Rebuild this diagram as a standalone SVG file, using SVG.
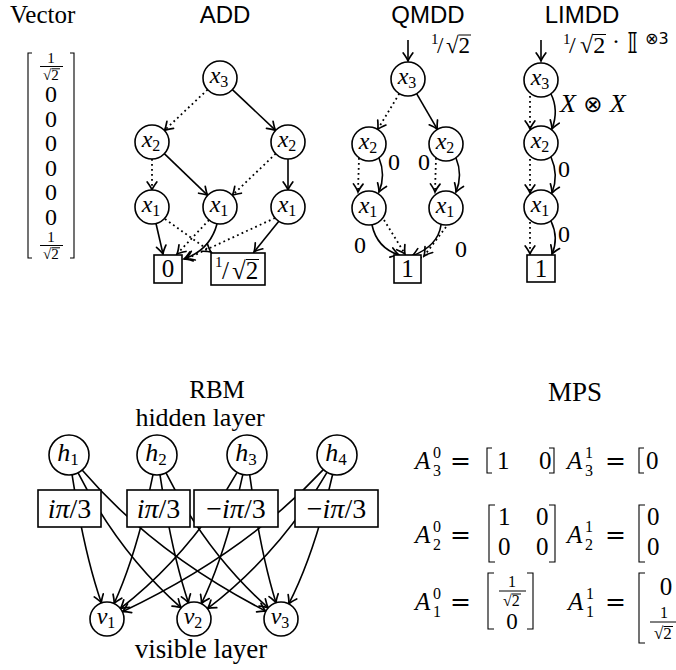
<svg xmlns="http://www.w3.org/2000/svg" width="676" height="670" viewBox="0 0 676 670">
<defs>
<style>
text { font-family: "Liberation Serif", "DejaVu Serif", serif; fill:#000; }
.sans { font-family: "Liberation Sans", "DejaVu Sans", sans-serif; }
.it { font-style: italic; }
.sym { font-family: "DejaVu Sans", "DejaVu Serif", "Noto Sans", sans-serif; }
.node { fill:#fff; stroke:#000; stroke-width:1.6; }
.box { fill:#fff; stroke:#000; stroke-width:1.6; }
.edge { fill:none; stroke:#000; stroke-width:1.6; marker-end:url(#arr); }
.dot { stroke-width:1.8; stroke-dasharray:1.8 3.2; }
.brk { fill:none; stroke:#000; stroke-width:1.1; }
.bar { stroke:#000; stroke-width:1; }
</style>
<marker id="arr" viewBox="-10 -6 12 12" refX="0" refY="0" markerWidth="12" markerHeight="12" orient="auto" markerUnits="userSpaceOnUse">
<path d="M-8,-4.8 Q-2.8,-1 0,0 Q-2.8,1 -8,4.8" fill="none" stroke="#000" stroke-width="1.7" stroke-linecap="round"/>
</marker>
</defs>
<rect width="676" height="670" fill="#fff"/>

<!-- Vector -->
<g id="vector">
<text x="10" y="22.5" font-size="25">Vector</text>
<path class="brk" d="M32,53 H28 V258 H32"/>
<path class="brk" d="M70,53 H74 V258 H70"/>
<text x="51" y="63" font-size="15" text-anchor="middle">1</text>
<line class="bar" x1="40" y1="66.5" x2="63" y2="66.5"/>
<text x="43" y="79.5" font-size="15">√2</text>
<line class="bar" x1="51.5" y1="68.8" x2="60" y2="68.8"/>
<text x="51" y="102" font-size="24" text-anchor="middle">0</text>
<text x="51" y="126.5" font-size="24" text-anchor="middle">0</text>
<text x="51" y="151" font-size="24" text-anchor="middle">0</text>
<text x="51" y="175.5" font-size="24" text-anchor="middle">0</text>
<text x="51" y="200" font-size="24" text-anchor="middle">0</text>
<text x="51" y="224.5" font-size="24" text-anchor="middle">0</text>
<text x="51" y="242" font-size="15" text-anchor="middle">1</text>
<line class="bar" x1="40" y1="245.5" x2="63" y2="245.5"/>
<text x="43" y="258.5" font-size="15">√2</text>
<line class="bar" x1="51.5" y1="247.8" x2="60" y2="247.8"/>
</g>

<!-- Titles -->
<text class="sans" x="225" y="22.5" font-size="24" text-anchor="middle">ADD</text>
<text class="sans" x="428" y="22.5" font-size="24" text-anchor="middle">QMDD</text>
<text class="sans" x="582" y="22.5" font-size="24" text-anchor="middle">LIMDD</text>

<!-- Connectors -->
<g id="connectors">
<!-- ADD -->
<path class="edge dot" d="M207.6,89.6 L164.4,130.4"/>
<path class="edge" d="M232.4,89.6 L275.6,130.4"/>
<path class="edge dot" d="M152,159 L152,190"/>
<path class="edge" d="M164.3,153.7 L207.7,195.3"/>
<path class="edge dot" d="M275.7,153.7 L232.3,195.3"/>
<path class="edge" d="M288,159 L288,190"/>
<path class="edge" d="M156,223.5 L163,254"/>
<path class="edge dot" d="M165,219 L211,252"/>
<path class="edge dot" d="M209,220 L177,254"/>
<path class="edge" d="M217,224 Q210,250 184,259"/>
<path class="edge dot" d="M275,218 L186,259"/>
<path class="edge" d="M279,221 L254,252"/>
<!-- QMDD -->
<path class="edge" d="M408,40 L408,61"/>
<path class="edge dot" d="M399.3,93.6 L377.7,129.4"/>
<path class="edge" d="M416.6,93.7 L437.4,129.3"/>
<path class="edge dot" d="M359,158 L358,192"/>
<path class="edge" d="M379,158 Q386,175 379,192"/>
<path class="edge dot" d="M436,158 L435,192"/>
<path class="edge" d="M456,158 Q463,175 456,192"/>
<path class="edge" d="M372,225 Q377,248 399,255"/>
<path class="edge dot" d="M384,220 L405,254"/>
<path class="edge" d="M441,225 Q438,246 412,256"/>
<path class="edge dot" d="M449,223 L424,256"/>
<!-- LIMDD -->
<path class="edge" d="M541,40 L541,61"/>
<path class="edge dot" d="M530,96 L530,129"/>
<path class="edge" d="M551,94 Q559,110 552,129"/>
<path class="edge dot" d="M530,159 L530,193"/>
<path class="edge" d="M551,157 Q559,175 552,193"/>
<path class="edge dot" d="M530,222 L530,254"/>
<path class="edge" d="M551,221 Q559,238 552,254"/>
<!-- RBM -->
<path class="edge" d="M72.1,474.8 Q84.2,553.4 101.4,602.9"/>
<path class="edge" d="M78.1,472.8 Q119,553.4 181.2,607.8"/>
<path class="edge" d="M82.1,470.1 Q153.8,553.4 265.9,611.2"/>
<path class="edge" d="M153,474.6 Q137,553.4 114.1,603.5"/>
<path class="edge" d="M160,474.8 Q171.8,553.4 188.5,602.9"/>
<path class="edge" d="M166,472.9 Q206.6,553.4 268.2,607.8"/>
<path class="edge" d="M237.1,472.4 Q191,553.4 120.4,608.5"/>
<path class="edge" d="M242.8,474.6 Q225.8,553.4 201.4,603.7"/>
<path class="edge" d="M249.7,474.8 Q260.6,553.4 276,602.8"/>
<path class="edge" d="M323.3,469.6 Q245,553.4 122.4,611.7"/>
<path class="edge" d="M327,472.3 Q279.8,553.4 207.5,608.7"/>
<path class="edge" d="M332.6,474.5 Q314.6,553.4 288.8,603.9"/>
</g>

<!-- ADD nodes -->
<g id="add-x3"><circle class="node" cx="220" cy="78" r="17"/><text x="219" y="83" font-size="24" text-anchor="middle"><tspan class="it">x</tspan><tspan font-size="16" dy="4">3</tspan></text></g>
<g id="add-x2a"><circle class="node" cx="152" cy="142" r="17"/><text x="151" y="147" font-size="24" text-anchor="middle"><tspan class="it">x</tspan><tspan font-size="16" dy="4">2</tspan></text></g>
<g id="add-x2b"><circle class="node" cx="288" cy="142" r="17"/><text x="287" y="147" font-size="24" text-anchor="middle"><tspan class="it">x</tspan><tspan font-size="16" dy="4">2</tspan></text></g>
<g id="add-x1a"><circle class="node" cx="152" cy="207" r="17"/><text x="151" y="212" font-size="24" text-anchor="middle"><tspan class="it">x</tspan><tspan font-size="16" dy="4">1</tspan></text></g>
<g id="add-x1b"><circle class="node" cx="220" cy="207" r="17"/><text x="219" y="212" font-size="24" text-anchor="middle"><tspan class="it">x</tspan><tspan font-size="16" dy="4">1</tspan></text></g>
<g id="add-x1c"><circle class="node" cx="288" cy="207" r="17"/><text x="287" y="212" font-size="24" text-anchor="middle"><tspan class="it">x</tspan><tspan font-size="16" dy="4">1</tspan></text></g>
<g id="add-t0"><rect class="box" x="154" y="255" width="28" height="28"/><text x="168" y="277" font-size="25" text-anchor="middle">0</text></g>
<g id="add-t1"><rect class="box" x="211" y="253" width="54" height="32"/>
<text x="215" y="267" font-size="15">1</text>
<text x="222" y="279" font-size="25">/</text>
<text x="232" y="279" font-size="25">√2</text>
<line class="bar" x1="246" y1="259.5" x2="259" y2="259.5"/></g>

<!-- QMDD nodes -->
<g id="qmdd-in"><text x="431" y="44" font-size="15">1</text><text x="437" y="53" font-size="23">/</text><text x="446" y="53" font-size="23">√2</text><line class="bar" x1="458.5" y1="35" x2="471" y2="35"/></g>
<g id="qmdd-x3"><circle class="node" cx="408" cy="79" r="17"/><text x="407" y="84" font-size="24" text-anchor="middle"><tspan class="it">x</tspan><tspan font-size="16" dy="4">3</tspan></text></g>
<g id="qmdd-x2a"><circle class="node" cx="369" cy="144" r="17"/><text x="368" y="149" font-size="24" text-anchor="middle"><tspan class="it">x</tspan><tspan font-size="16" dy="4">2</tspan></text></g>
<g id="qmdd-x2b"><circle class="node" cx="446" cy="144" r="17"/><text x="445" y="149" font-size="24" text-anchor="middle"><tspan class="it">x</tspan><tspan font-size="16" dy="4">2</tspan></text></g>
<g id="qmdd-x1a"><circle class="node" cx="369" cy="208" r="17"/><text x="368" y="213" font-size="24" text-anchor="middle"><tspan class="it">x</tspan><tspan font-size="16" dy="4">1</tspan></text></g>
<g id="qmdd-x1b"><circle class="node" cx="446" cy="208" r="17"/><text x="445" y="213" font-size="24" text-anchor="middle"><tspan class="it">x</tspan><tspan font-size="16" dy="4">1</tspan></text></g>
<g id="qmdd-t1"><rect class="box" x="394" y="255" width="27" height="28"/><text x="407.5" y="277" font-size="25" text-anchor="middle">1</text></g>
<g id="qmdd-labels">
<text x="394" y="170" font-size="24" text-anchor="middle">0</text>
<text x="424" y="170" font-size="24" text-anchor="middle">0</text>
<text x="360" y="253" font-size="24" text-anchor="middle">0</text>
<text x="461" y="257" font-size="24" text-anchor="middle">0</text>
</g>

<!-- LIMDD nodes -->
<g id="limdd-in"><text x="563" y="44" font-size="15">1</text><text x="569" y="53" font-size="24">/</text><text x="580" y="53" font-size="24">√2</text><line class="bar" x1="592.5" y1="34.5" x2="606" y2="34.5"/>
<text x="612" y="49" font-size="24">·</text>
<text class="sym" x="627" y="53" font-size="28">𝕀</text>
<text class="sym" x="645" y="44" font-size="16">⊗3</text></g>
<g id="limdd-x3"><circle class="node" cx="541" cy="80" r="17"/><text x="540" y="85" font-size="24" text-anchor="middle"><tspan class="it">x</tspan><tspan font-size="16" dy="4">3</tspan></text></g>
<g id="limdd-x2"><circle class="node" cx="541" cy="143" r="17"/><text x="540" y="148" font-size="24" text-anchor="middle"><tspan class="it">x</tspan><tspan font-size="16" dy="4">2</tspan></text></g>
<g id="limdd-x1"><circle class="node" cx="541" cy="207" r="17"/><text x="540" y="212" font-size="24" text-anchor="middle"><tspan class="it">x</tspan><tspan font-size="16" dy="4">1</tspan></text></g>
<g id="limdd-t1"><rect class="box" x="527" y="255" width="28" height="27"/><text x="541" y="277" font-size="25" text-anchor="middle">1</text></g>
<g id="limdd-labels">
<text x="560" y="112" font-size="26"><tspan class="it">X</tspan><tspan class="sym" font-size="23"> ⊗ </tspan><tspan class="it">X</tspan></text>
<text x="564" y="177" font-size="24" text-anchor="middle">0</text>
<text x="564" y="242" font-size="24" text-anchor="middle">0</text>
</g>

<!-- RBM -->
<text x="217" y="398" font-size="25" text-anchor="middle">RBM</text>
<text x="200" y="426" font-size="26" text-anchor="middle">hidden layer</text>
<text x="201" y="658" font-size="27" text-anchor="middle">visible layer</text>
<g id="rbm-w1"><rect class="box" x="38" y="490" width="63" height="37"/><text x="69.5" y="518" font-size="28" text-anchor="middle"><tspan class="it">iπ</tspan>/3</text></g>
<g id="rbm-w2"><rect class="box" x="127" y="490" width="63" height="37"/><text x="158.5" y="518" font-size="28" text-anchor="middle"><tspan class="it">iπ</tspan>/3</text></g>
<g id="rbm-w3"><rect class="box" x="194" y="490" width="84" height="37"/><text x="236" y="518" font-size="28" text-anchor="middle">−<tspan class="it">iπ</tspan>/3</text></g>
<g id="rbm-w4"><rect class="box" x="295" y="490" width="83" height="37"/><text x="336.5" y="518" font-size="28" text-anchor="middle">−<tspan class="it">iπ</tspan>/3</text></g>
<g id="rbm-h1"><circle class="node" cx="69" cy="455" r="20"/><text x="68" y="461" font-size="26" text-anchor="middle"><tspan class="it">h</tspan><tspan font-size="17" dy="4">1</tspan></text></g>
<g id="rbm-h2"><circle class="node" cx="157" cy="455" r="20"/><text x="156" y="461" font-size="26" text-anchor="middle"><tspan class="it">h</tspan><tspan font-size="17" dy="4">2</tspan></text></g>
<g id="rbm-h3"><circle class="node" cx="247" cy="455" r="20"/><text x="246" y="461" font-size="26" text-anchor="middle"><tspan class="it">h</tspan><tspan font-size="17" dy="4">3</tspan></text></g>
<g id="rbm-h4"><circle class="node" cx="337" cy="455" r="20"/><text x="336" y="461" font-size="26" text-anchor="middle"><tspan class="it">h</tspan><tspan font-size="17" dy="4">4</tspan></text></g>
<g id="rbm-v1"><circle class="node" cx="107" cy="619" r="17"/><text x="106" y="624" font-size="24" text-anchor="middle"><tspan class="it">v</tspan><tspan font-size="16" dy="4">1</tspan></text></g>
<g id="rbm-v2"><circle class="node" cx="194" cy="619" r="17"/><text x="193" y="624" font-size="24" text-anchor="middle"><tspan class="it">v</tspan><tspan font-size="16" dy="4">2</tspan></text></g>
<g id="rbm-v3"><circle class="node" cx="281" cy="619" r="17"/><text x="280" y="624" font-size="24" text-anchor="middle"><tspan class="it">v</tspan><tspan font-size="16" dy="4">3</tspan></text></g>

<!-- MPS -->
<g id="mps">
<text x="575" y="401" font-size="27" text-anchor="middle">MPS</text>
<!-- row 1 -->
<text class="it" x="415" y="469" font-size="25">A</text>
<text x="433" y="458" font-size="16">0</text>
<text x="433" y="476" font-size="16">3</text>
<text class="sym" x="450" y="469" font-size="25">=</text>
<path class="brk" d="M492,448 H487 V473 H492"/>
<text x="497" y="469" font-size="25">1</text>
<text x="539" y="469" font-size="25">0</text>
<path class="brk" d="M549,448 H554 V473 H549"/>
<text class="it" x="567" y="469" font-size="25">A</text>
<text x="585" y="458" font-size="16">1</text>
<text x="585" y="476" font-size="16">3</text>
<text class="sym" x="605" y="469" font-size="25">=</text>
<path class="brk" d="M644,448 H639 V473 H644"/>
<text x="646" y="469" font-size="25">0</text>
<!-- row 2 -->
<text class="it" x="415" y="543" font-size="25">A</text>
<text x="433" y="532" font-size="16">0</text>
<text x="433" y="550" font-size="16">2</text>
<text class="sym" x="450" y="543" font-size="25">=</text>
<path class="brk" d="M495,505 H489 V562 H495"/>
<text x="498" y="525" font-size="25">1</text>
<text x="536" y="525" font-size="25">0</text>
<text x="498" y="555" font-size="25">0</text>
<text x="536" y="555" font-size="25">0</text>
<path class="brk" d="M549,505 H555 V562 H549"/>
<text class="it" x="567" y="543" font-size="25">A</text>
<text x="585" y="532" font-size="16">1</text>
<text x="585" y="550" font-size="16">2</text>
<text class="sym" x="605" y="543" font-size="25">=</text>
<path class="brk" d="M645,505 H639 V562 H645"/>
<text x="647" y="525" font-size="25">0</text>
<text x="647" y="555" font-size="25">0</text>
<!-- row 3 -->
<text class="it" x="415" y="610" font-size="25">A</text>
<text x="433" y="599" font-size="16">0</text>
<text x="433" y="617" font-size="16">1</text>
<text class="sym" x="450" y="610" font-size="25">=</text>
<path class="brk" d="M494,573 H488 V629 H494"/>
<text x="512" y="587" font-size="16" text-anchor="middle">1</text>
<line class="bar" x1="499" y1="591" x2="526" y2="591"/>
<text x="503" y="605.5" font-size="16">√2</text>
<line class="bar" x1="512" y1="594" x2="521" y2="594"/>
<text x="512" y="629" font-size="23" text-anchor="middle">0</text>
<path class="brk" d="M527,573 H533 V629 H527"/>
<text class="it" x="568" y="610" font-size="25">A</text>
<text x="586" y="599" font-size="16">1</text>
<text x="586" y="617" font-size="16">1</text>
<text class="sym" x="605" y="610" font-size="25">=</text>
<path class="brk" d="M645,573 H639 V643 H645"/>
<text x="666" y="595" font-size="25" text-anchor="middle">0</text>
<text x="664" y="618" font-size="16" text-anchor="middle">1</text>
<line class="bar" x1="650" y1="622" x2="678" y2="622"/>
<text x="654" y="639" font-size="17">√2</text>
<line class="bar" x1="663.5" y1="626.5" x2="673" y2="626.5"/>
</g>
</svg>
